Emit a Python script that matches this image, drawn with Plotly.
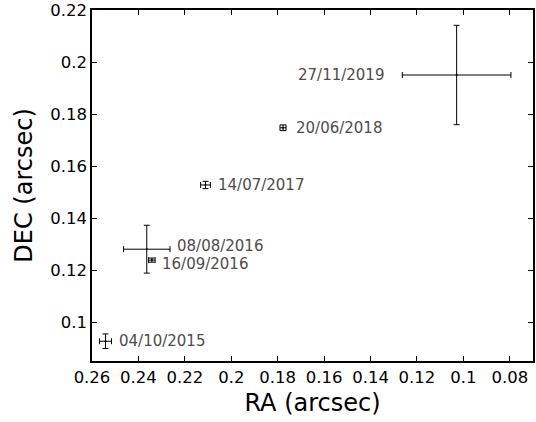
import plotly.graph_objects as go

# Epochs and measured offsets (arcsec)
dates = ["04/10/2015", "08/08/2016", "16/09/2016", "14/07/2017", "20/06/2018", "27/11/2019"]
ra = [0.2542, 0.2364, 0.2342, 0.2111, 0.1777, 0.1029]
ra_err = [0.0026, 0.0100, 0.0014, 0.0021, 0.0013, 0.0234]
dec = [0.0926, 0.1280, 0.1238, 0.1527, 0.1747, 0.1950]
dec_err = [0.0028, 0.0092, 0.0008, 0.0014, 0.0011, 0.0191]

# Label placement: anchor side and pixel shifts from the point
label_anchor = ["left", "left", "left", "left", "left", "right"]
label_xshift = [12, 28, 8, 10, 11, -71]
label_yshift = [0, 3, -4, 0, 0, 0]

x_ticks = [0.26, 0.24, 0.22, 0.2, 0.18, 0.16, 0.14, 0.12, 0.1, 0.08]
y_ticks = [0.1, 0.12, 0.14, 0.16, 0.18, 0.2, 0.22]

fig = go.Figure()
fig.add_trace(go.Scatter(
    x=ra, y=dec, mode="markers",
    marker=dict(size=2, color="black"),
    error_x=dict(type="data", array=ra_err, color="black", thickness=1, width=3),
    error_y=dict(type="data", array=dec_err, color="black", thickness=1, width=3),
    showlegend=False, hoverinfo="skip",
))

for d, x, y, anc, xs, ys in zip(dates, ra, dec, label_anchor, label_xshift, label_yshift):
    fig.add_annotation(x=x, y=y, text=d, showarrow=False, xanchor=anc, yanchor="middle",
                       xshift=xs, yshift=ys,
                       font=dict(family="DejaVu Sans", size=15, color="#4d4d4d"))

axis_common = dict(
    showline=True, linecolor="black", linewidth=1.5, mirror="allticks",
    ticks="inside", ticklen=5, tickwidth=1, tickcolor="black",
    showgrid=False, zeroline=False,
    tickfont=dict(family="DejaVu Sans", size=16.5, color="black"),
)

fig.update_xaxes(range=[0.26, 0.07], tickvals=x_ticks, ticktext=[f"{v:g}" for v in x_ticks],
                 title=dict(text="RA (arcsec)", font=dict(family="DejaVu Sans", size=24, color="black"),
                            standoff=9),
                 **axis_common)
fig.update_yaxes(range=[0.085, 0.22], tickvals=y_ticks, ticktext=[f"{v:g}" for v in y_ticks],
                 title=dict(text="DEC (arcsec)", font=dict(family="DejaVu Sans", size=24, color="black"),
                            standoff=11),
                 **axis_common)

fig.update_layout(
    width=536, height=422,
    margin=dict(l=92, r=1, t=10, b=61),
    plot_bgcolor="white", paper_bgcolor="white",
)

fig.write_html("out.html")
